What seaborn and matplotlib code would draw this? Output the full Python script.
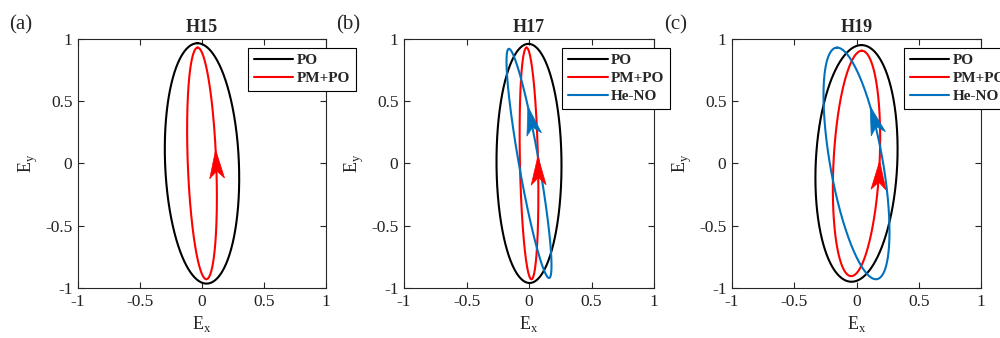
import numpy as np
import pandas as pd
import matplotlib
matplotlib.use("Agg")
import matplotlib.pyplot as plt
import seaborn as sns
from matplotlib.patches import Polygon

# ---------------- data ----------------
harmonics = ["H15", "H17", "H19"]
panel_labels = ["(a)", "(b)", "(c)"]
series_names = ["PO", "PM+PO", "He-NO"]

# polarization ellipse parameters: Ex = Ex0*cos(wt + delta), Ey = Ey0*cos(wt)
po_ex_amp = [0.30, 0.26, 0.33]
po_ey_amp = [0.965, 0.96, 0.95]
po_phase_deg = [97, 91, 83]

pmpo_ex_amp = [0.12, 0.075, 0.19]
pmpo_ey_amp = [0.93, 0.93, 0.905]
pmpo_phase_deg = [107, 105, 77]

heno_ex_amp = [None, 0.18, 0.265]
heno_ey_amp = [None, 0.92, 0.93]
heno_phase_deg = [None, 153, 126]

tick_values = [-1, -0.5, 0, 0.5, 1]
tick_labels = ["-1", "-0.5", "0", "0.5", "1"]

# ---------------- style ----------------
sns.set_style("ticks")
plt.rcParams["font.family"] = ["Liberation Serif", "DejaVu Serif"]
plt.rcParams["mathtext.fontset"] = "custom"
plt.rcParams["mathtext.rm"] = "Liberation Serif"
plt.rcParams["axes.unicode_minus"] = False

colors = {"PO": "#000000", "PM+PO": "#FF0000", "He-NO": "#0072BD"}
arrow_tip_y = {"PM+PO": [0.11, 0.06, 0.02], "He-NO": [None, 0.46, 0.46]}
legend_anchor_x = [0.685, 0.632, 0.69]
axes_rects = [[0.078, 0.148, 0.248, 0.737],
              [0.404, 0.148, 0.250, 0.737],
              [0.732, 0.148, 0.249, 0.737]]
label_x = [0.009, 0.336, 0.664]
axis_color = "#262626"

params = {
    "PO": (po_ex_amp, po_ey_amp, po_phase_deg),
    "PM+PO": (pmpo_ex_amp, pmpo_ey_amp, pmpo_phase_deg),
    "He-NO": (heno_ex_amp, heno_ey_amp, heno_phase_deg),
}

wt = np.linspace(0, 2 * np.pi, 1441)


def ellipse_frame(ex0, ey0, delta_deg):
    d = np.deg2rad(delta_deg)
    return pd.DataFrame({"Ex": ex0 * np.cos(wt + d), "Ey": ey0 * np.cos(wt)})


def draw_arrowhead(ax, df, tip_y, color, L=0.23, W=0.12, notch=0.06):
    x = df["Ex"].to_numpy()
    y = df["Ey"].to_numpy()
    dy = np.diff(y)
    idx = np.where((y[:-1] <= tip_y) & (y[1:] > tip_y) & (dy > 0))[0][0]
    tx, ty = x[idx], y[idx]
    ux, uy = x[idx + 1] - x[idx - 1], y[idx + 1] - y[idx - 1]
    n = np.hypot(ux, uy)
    ux, uy = ux / n, uy / n
    nx, ny = -uy, ux
    pts = [
        (tx, ty),
        (tx - L * ux + W / 2 * nx, ty - L * uy + W / 2 * ny),
        (tx - (L - notch) * ux, ty - (L - notch) * uy),
        (tx - L * ux - W / 2 * nx, ty - L * uy - W / 2 * ny),
    ]
    ax.add_patch(Polygon(pts, closed=True, facecolor=color, edgecolor=color,
                         lw=0.5, zorder=5))


fig = plt.figure(figsize=(10, 3.38), dpi=100)

for i, h in enumerate(harmonics):
    ax = fig.add_axes(axes_rects[i])
    for name in series_names:
        ex_l, ey_l, ph_l = params[name]
        if ex_l[i] is None:
            continue
        df = ellipse_frame(ex_l[i], ey_l[i], ph_l[i])
        sns.lineplot(data=df, x="Ex", y="Ey", sort=False, estimator=None,
                     color=colors[name], lw=1.5, ax=ax, label=name)
        if name in arrow_tip_y and arrow_tip_y[name][i] is not None:
            draw_arrowhead(ax, df, arrow_tip_y[name][i], colors[name])

    ax.set_xlim(-1, 1)
    ax.set_ylim(-1, 1)
    ax.set_xticks(tick_values)
    ax.set_xticklabels(tick_labels)
    ax.set_yticks(tick_values)
    ax.set_yticklabels(tick_labels)
    ax.tick_params(direction="in", length=4, width=0.8, top=True, right=True,
                   labelsize=12.5, pad=4, colors=axis_color,
                   labelcolor="#222222")
    for sp in ax.spines.values():
        sp.set_visible(True)
        sp.set_linewidth(0.8)
        sp.set_color(axis_color)
    ax.set_xlabel(r"E$_\mathregular{x}$", fontsize=13, labelpad=3,
                  color="#222222")
    ax.set_ylabel(r"E$_\mathregular{y}$", fontsize=13, labelpad=4,
                  color="#222222")
    ax.set_title(h, fontsize=13, fontweight="bold", pad=5)

    leg = ax.legend(loc="upper left",
                    bbox_to_anchor=(legend_anchor_x[i], 0.964),
                    borderaxespad=0, frameon=True, fancybox=False,
                    framealpha=1, edgecolor="#000000",
                    prop={"weight": "bold", "size": 11},
                    handlelength=2.6, handletextpad=0.2,
                    labelspacing=0.28, borderpad=0.38)
    leg.get_frame().set_linewidth(0.8)

    fig.text(label_x[i], 0.925, panel_labels[i], fontsize=15,
             ha="left", va="center")

fig.savefig("out.png", dpi=100)
